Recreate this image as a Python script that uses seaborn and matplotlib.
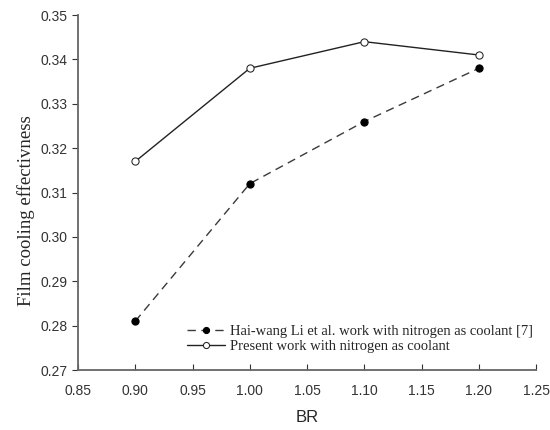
import matplotlib
matplotlib.use("Agg")
import matplotlib.pyplot as plt
import seaborn as sns
import pandas as pd

br = [0.90, 1.00, 1.10, 1.20]
haiwang = [0.281, 0.312, 0.326, 0.338]
present = [0.317, 0.338, 0.344, 0.341]
label_hw = "Hai-wang Li et al. work with nitrogen as coolant [7]"
label_pr = "Present work with nitrogen as coolant"
xticks = [0.85, 0.90, 0.95, 1.00, 1.05, 1.10, 1.15, 1.20, 1.25]
yticks = [0.27, 0.28, 0.29, 0.30, 0.31, 0.32, 0.33, 0.34, 0.35]

sns.set_style("ticks")
plt.rcParams["font.family"] = ["Liberation Sans", "DejaVu Sans"]

fig = plt.figure(figsize=(5.5, 4.3), dpi=100)
ax = fig.add_axes([0.1418, 0.1395, 0.833, 0.8255])

df1 = pd.DataFrame({"BR": br, "eff": haiwang})
df2 = pd.DataFrame({"BR": br, "eff": present})
sns.lineplot(data=df1, x="BR", y="eff", ax=ax, color="#3a3a3a", lw=1.0,
             linestyle=(0, (6, 4)), marker="o", markersize=5.2,
             markerfacecolor="black", markeredgecolor="black", label=label_hw)
sns.lineplot(data=df2, x="BR", y="eff", ax=ax, color="#222222", lw=1.0,
             marker="o", markersize=5.2, markerfacecolor="white",
             markeredgecolor="#222222", label=label_pr)

ax.set_xlim(0.85, 1.25)
ax.set_ylim(0.27, 0.35)
ax.set_xticks(xticks)
ax.set_yticks(yticks)
ax.set_xticklabels([f"{v:.2f}" for v in xticks])
ax.set_yticklabels([f"{v:.2f}" for v in yticks])
ax.tick_params(axis="x", direction="in", length=4, labelsize=10, colors="#333333", pad=10)
ax.tick_params(axis="y", direction="out", length=4, labelsize=10, colors="#333333")
for s in ["top", "right"]:
    ax.spines[s].set_visible(False)
for s in ["left", "bottom"]:
    ax.spines[s].set_color("#666666")
    ax.spines[s].set_linewidth(1.3)

ax.set_xlabel("BR", fontsize=12)
ax.xaxis.set_label_coords(0.5, -0.113)
ax.set_ylabel("Film cooling effectivness", fontsize=13.5,
              family=["Liberation Serif", "DejaVu Serif"])
ax.yaxis.set_label_coords(-0.093, 0.45)

leg = ax.legend(loc="center left", bbox_to_anchor=(0.238, 0.087), frameon=False,
                prop={"family": ["Liberation Serif"], "size": 10.5},
                handlelength=2.6, handletextpad=0.35, labelspacing=0.15,
                borderpad=0, borderaxespad=0, markerscale=0.85)

fig.savefig("out.png", dpi=100)
